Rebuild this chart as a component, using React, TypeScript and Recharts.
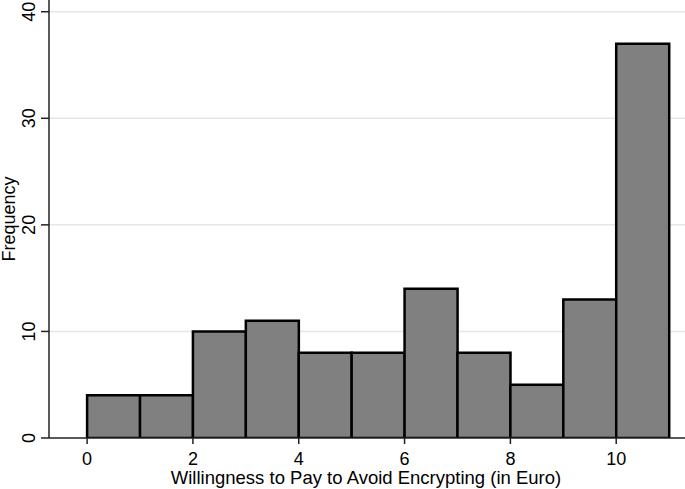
import React from "react";
import {
  ComposedChart,
  Bar,
  XAxis,
  YAxis,
  CartesianGrid,
} from "recharts";

const binStarts = [0, 1, 2, 3, 4, 5, 6, 7, 8, 9, 10];
const frequencies = [4, 4, 10, 11, 8, 8, 14, 8, 5, 13, 37];
const xTicks = [0, 2, 4, 6, 8, 10];
const yTicks = [0, 10, 20, 30, 40];

const data = binStarts.map((s, i) => ({ mid: s + 0.5, freq: frequencies[i] }));

const FONT = "'Liberation Sans', Arial, sans-serif";

function YTick(props: any) {
  const { x, y, payload } = props;
  const tx = x - 4;
  return (
    <text
      x={tx}
      y={y}
      transform={`rotate(-90, ${tx}, ${y})`}
      textAnchor="middle"
      fontSize={18}
      fontFamily={FONT}
      fill="#000"
    >
      {payload.value}
    </text>
  );
}

function XLabel(props: any) {
  const { viewBox } = props;
  return (
    <text
      x={viewBox.x + viewBox.width / 2 - 1}
      y={484}
      textAnchor="middle"
      fontSize={18.5}
      fontFamily={FONT}
      fill="#000"
    >
      Willingness to Pay to Avoid Encrypting (in Euro)
    </text>
  );
}

function YLabel() {
  return (
    <text
      x={15}
      y={219}
      transform="rotate(-90, 15, 219)"
      textAnchor="middle"
      fontSize={18}
      fontFamily={FONT}
      fill="#000"
    >
      Frequency
    </text>
  );
}

export default function App() {
  return (
    <div style={{ position: "absolute", left: 0, top: 0, background: "#fff" }}>
      <ComposedChart
        width={685}
        height={489}
        data={data}
        barCategoryGap={0}
        barGap={0}
        margin={{ top: 0, right: 0, left: 0, bottom: 0 }}
      >
        <CartesianGrid
          vertical={false}
          stroke="#e6e6e6"
          strokeWidth={1.5}
          horizontalValues={[10, 20, 30, 40]}
        />
        <XAxis
          type="number"
          dataKey="mid"
          domain={[-0.72, 11.3]}
          ticks={xTicks}
          allowDataOverflow
          height={51}
          tickSize={6}
          stroke="#222"
          strokeWidth={1.5}
          tick={{ fontSize: 18, fontFamily: FONT, fill: "#000", dy: 6 }}
          label={<XLabel />}
        />
        <YAxis
          type="number"
          domain={[0, 41.1]}
          ticks={yTicks}
          allowDataOverflow
          width={49}
          tickSize={8}
          stroke="#222"
          strokeWidth={1.5}
          tick={<YTick />}
          label={<YLabel />}
        />
        <Bar
          dataKey="freq"
          fill="#808080"
          stroke="#000"
          strokeWidth={2.5}
          isAnimationActive={false}
        />
      </ComposedChart>
    </div>
  );
}
